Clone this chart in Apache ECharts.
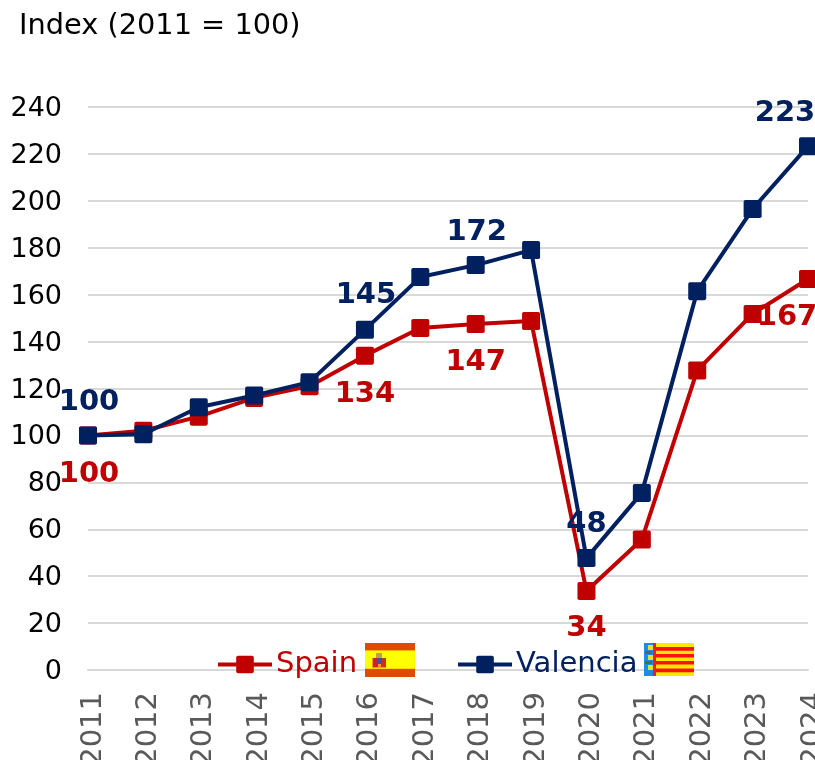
<!DOCTYPE html>
<html><head><meta charset="utf-8">
<style>html,body{margin:0;padding:0;background:#fff}#c{width:815px;height:760px}</style>
<script src="https://cdn.jsdelivr.net/npm/echarts@6/dist/echarts.min.js"></script>
</head><body><div id="c"></div>
<script>
const years=['2011','2012','2013','2014','2015','2016','2017','2018','2019','2020','2021','2022','2023','2024'];
const spain=[100,102,108,116,121,134,145.8,147.5,148.8,33.7,55.6,127.7,151.8,166.7];
const valencia=[100,100.5,112,117,122.7,145,167.5,172.6,179,47.7,75.5,161.5,196.5,223.3];
const spainLabelled={'2011':100,'2016':134,'2018':147,'2020':34,'2024':167};
const valenciaLabelled={'2011':100,'2016':145,'2018':172,'2020':48,'2024':223};
const yTicks=[0,20,40,60,80,100,120,140,160,180,200,220,240];

const FONT='"DejaVu Sans"';
const RED='#C00000',NAVY='#002060';
const MARK='path://M1,0H9Q10,0 10,1V9Q10,10 9,10H1Q0,10 0,9V1Q0,0 1,0Z';
const spainOffsets={'2011':[1,39],'2016':[0,39],'2018':[0,38],'2020':[0,38],'2024':[-21,39]};
const valOffsets={'2011':[1,-33],'2016':[1,-34],'2018':[1,-33],'2020':[0,-34],'2024':[-23,-33]};
function pts(vals,lab,offs,color){
  return vals.map((v,i)=>{
    const y=years[i];
    if(lab[y]===undefined) return v;
    return {value:v,label:{show:true,position:'inside',offset:offs[y],formatter:String(lab[y]),color,fontFamily:FONT,fontWeight:'bold',fontSize:29}};
  });
}
function r(x,y,w,h,fill){return {type:'rect',silent:true,shape:{x,y,width:w,height:h},style:{fill},z:20};}
const flags=[
  r(365,643,50,34,'#E04A00'),r(365,650,50,19,'#FFB000'),r(365,651,50,17.5,'#FFFF00'),
  r(372,658,14,10,'#E0A020'),r(373,658,5,9,'#D02020'),r(381,658,5,9,'#D03010'),r(377,658,5,6,'#4050A0'),r(376,653,6,5,'#C0A040'),
  r(644,643,50,33,'#FFE800'),
  r(644,643,9,33,'#1E8CE0'),r(653,643,3,33,'#E82020'),
  r(648,645,5,5,'#E8E020'),r(648,655,5,5,'#E8E020'),r(648,665,5,5,'#E8E020'),r(645,651,7,3,'#407060'),r(645,661,7,3,'#407060'),
  r(656,647,38,3.7,'#FF1010'),r(656,654,38,3.5,'#FF1010'),r(656,661,38,3.5,'#FF1010'),r(656,668.5,38,3.7,'#FF1010')
];
const chart=echarts.init(document.getElementById('c'),null,{renderer:'canvas'});
chart.setOption({
  animation:false,
  backgroundColor:'#fff',
  title:{text:'Index (2011 = 100)',left:14,top:7,textStyle:{fontFamily:FONT,fontWeight:'normal',fontSize:28.8,color:'#000'}},
  grid:{left:88,right:7,top:107,bottom:90,outerBoundsMode:'none'},
  legend:{left:211,top:645,itemWidth:54,itemHeight:22,itemGap:99,
    lineStyle:{width:4},
    textStyle:{fontFamily:FONT,fontSize:29,padding:[0,0,0,-1],verticalAlign:'top',lineHeight:9},
    data:[{name:'Spain',textStyle:{color:RED}},{name:'Valencia',textStyle:{color:NAVY}}]},
  xAxis:{type:'category',data:years,boundaryGap:false,
    axisLine:{lineStyle:{color:'#D9D9D9',width:2}},axisTick:{show:false},
    axisLabel:{rotate:90,interval:0,margin:22,fontFamily:FONT,fontSize:29,color:'#595959',verticalAlign:'top',lineHeight:10}},
  yAxis:{type:'value',min:0,max:240,interval:20,
    axisLine:{show:false},axisTick:{show:false},
    splitLine:{lineStyle:{color:'#D9D9D9',width:2}},
    axisLabel:{margin:26,fontFamily:FONT,fontSize:27,color:'#000',verticalAlign:'top',lineHeight:4,formatter:v=>yTicks.includes(v)?String(v):''}},
  series:[
    {name:'Spain',type:'line',data:pts(spain,spainLabelled,spainOffsets,RED),clip:false,symbol:MARK,symbolSize:18,
      lineStyle:{color:RED,width:4},itemStyle:{color:RED},z:3},
    {name:'Valencia',type:'line',data:pts(valencia,valenciaLabelled,valOffsets,NAVY),clip:false,symbol:MARK,symbolSize:18,
      lineStyle:{color:NAVY,width:4},itemStyle:{color:NAVY},z:4}
  ],
  graphic:flags
});
</script></body></html>
